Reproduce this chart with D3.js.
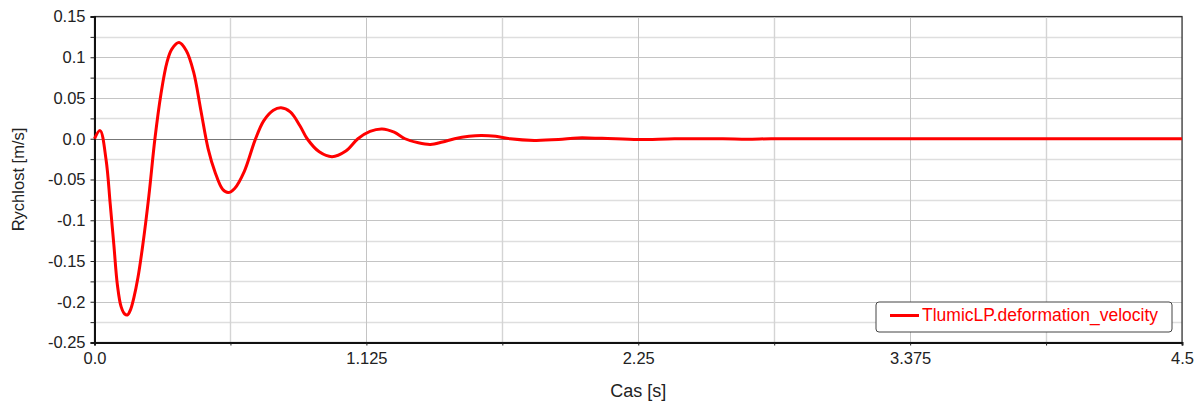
<!DOCTYPE html>
<html>
<head>
<meta charset="utf-8">
<script src="https://cdn.jsdelivr.net/npm/d3@7"></script>
<style>
  body { margin: 0; background: #fff; }
  svg { display: block; font-family: "Liberation Sans", Arial, sans-serif; }
</style>
</head>
<body>
<div id="chart"></div>
<script>
// time [s] and deformation velocity [m/s]
const time = [0, 0.023, 0.048, 0.065, 0.08, 0.095, 0.11, 0.125, 0.137, 0.15, 0.163, 0.18, 0.2, 0.225, 0.25,
  0.275, 0.3, 0.32, 0.35, 0.38, 0.41, 0.44, 0.47, 0.5, 0.53, 0.553, 0.58, 0.62, 0.664, 0.7, 0.74, 0.772,
  0.81, 0.85, 0.88, 0.93, 0.983, 1.04, 1.09, 1.14, 1.19, 1.24, 1.285, 1.34, 1.39, 1.44, 1.49, 1.55, 1.6,
  1.66, 1.72, 1.82, 1.92, 2.0, 2.1, 2.25, 2.4, 2.6, 2.7, 2.8, 3.0, 3.5, 4.0, 4.5];
const velocity = [0, 0.01, -0.026, -0.08, -0.13, -0.18, -0.206, -0.215, -0.216, -0.209, -0.195, -0.17, -0.13, -0.07, 0.0,
  0.055, 0.094, 0.11, 0.118, 0.108, 0.082, 0.035, -0.012, -0.042, -0.062, -0.066, -0.061, -0.04, -0.002, 0.022, 0.035, 0.038,
  0.033, 0.016, 0.0, -0.016, -0.022, -0.015, 0.0, 0.009, 0.012, 0.008, 0.0, -0.005, -0.007, -0.004, 0.0, 0.003, 0.004,
  0.003, 0.0, -0.002, -0.001, 0.001, 0.0005, -0.001, 0, 0, -0.0005, 0, 0, 0, 0, 0];

const xTicks = [0, 1.125, 2.25, 3.375, 4.5];
const xTickLabels = ["0.0", "1.125", "2.25", "3.375", "4.5"];
const yTicks = [0.15, 0.1, 0.05, 0, -0.05, -0.1, -0.15, -0.2, -0.25];
const yTickLabels = ["0.15", "0.1", "0.05", "0.0", "-0.05", "-0.1", "-0.15", "-0.2", "-0.25"];
const seriesName = "TlumicLP.deformation_velocity";

const width = 1198, height = 401;
const margin = {top: 16.5, right: 16, bottom: 58.5, left: 94.5};

const svg = d3.select("#chart").append("svg")
    .attr("width", width)
    .attr("height", height);

const x = d3.scaleLinear().domain([0, 4.5]).range([margin.left, width - margin.right]);
const y = d3.scaleLinear().domain([-0.25, 0.15]).range([height - margin.bottom, margin.top]);

// grid
const xMinor = d3.range(0, 4.5 + 1e-9, 0.5625);
const yMinor = d3.range(-0.25, 0.15 + 1e-9, 0.025);

svg.append("g").selectAll("line")
    .data(yMinor)
    .enter().append("line")
    .attr("x1", x(0)).attr("x2", x(4.5))
    .attr("y1", d => Math.round(y(d)) + 0.5).attr("y2", d => Math.round(y(d)) + 0.5)
    .attr("stroke", (d, i) => i % 2 === 0 ? "#c4c4c4" : "#dedede")
    .attr("stroke-width", (d, i) => i % 2 === 0 ? 1 : 1.6);

svg.append("g").selectAll("line")
    .data(xMinor)
    .enter().append("line")
    .attr("x1", d => Math.round(x(d)) + 0.5).attr("x2", d => Math.round(x(d)) + 0.5)
    .attr("y1", y(0.15)).attr("y2", y(-0.25))
    .attr("stroke", (d, i) => i % 2 === 0 ? "#c4c4c4" : "#d4d4d4")
    .attr("stroke-width", (d, i) => i % 2 === 0 ? 1 : 1.4);

// zero line
svg.append("line")
    .attr("x1", x(0)).attr("x2", x(4.5))
    .attr("y1", Math.round(y(0)) + 0.5).attr("y2", Math.round(y(0)) + 0.5)
    .attr("stroke", "#777").attr("stroke-width", 1);

// frame
svg.append("rect")
    .attr("x", x(0)).attr("y", y(0.15))
    .attr("width", x(4.5) - x(0)).attr("height", y(-0.25) - y(0.15))
    .attr("fill", "none").attr("stroke", "#333").attr("stroke-width", 1.2);

// axes
const xAxis = d3.axisBottom(x)
    .tickValues(xMinor)
    .tickSize(3)
    .tickFormat(d => {
        const i = xTicks.findIndex(t => Math.abs(t - d) < 1e-9);
        return i >= 0 ? xTickLabels[i] : "";
    });
const yAxis = d3.axisLeft(y)
    .tickValues(yMinor)
    .tickSize(4)
    .tickFormat(d => {
        const i = yTicks.findIndex(t => Math.abs(t - d) < 1e-9);
        return i >= 0 ? yTickLabels[i] : "";
    });

const gx = svg.append("g")
    .attr("transform", `translate(0,${y(-0.25)})`)
    .call(xAxis);
const gy = svg.append("g")
    .attr("transform", `translate(${x(0)},0)`)
    .call(yAxis);

[gx, gy].forEach(g => {
    g.select(".domain").attr("stroke", "#111").attr("stroke-width", 2);
    g.selectAll(".tick line").attr("stroke", "#222");
    g.selectAll(".tick text").attr("fill", "#222").style("font-size", "16.5px")
        .style("font-family", "'Liberation Sans', Arial, sans-serif");
});
gx.selectAll(".tick text").attr("dy", "0.71em").attr("y", 10);
gy.selectAll(".tick text").attr("x", -9);

// axis titles
svg.append("text")
    .attr("x", (x(0) + x(4.5)) / 2).attr("y", 397)
    .attr("text-anchor", "middle")
    .style("font-size", "18px").attr("fill", "#222")
    .text("Cas [s]");
svg.append("text")
    .attr("transform", `translate(24,${(y(0.15) + y(-0.25)) / 2}) rotate(-90)`)
    .attr("text-anchor", "middle")
    .style("font-size", "16.5px").attr("fill", "#222")
    .text("Rychlost [m/s]");

// series
const data = time.map((t, i) => ({t: t, v: velocity[i]}));
const line = d3.line()
    .x(d => x(d.t))
    .y(d => y(d.v))
    .curve(d3.curveCatmullRom.alpha(0.5));

svg.append("path")
    .datum(data)
    .attr("fill", "none")
    .attr("stroke", "#ff0000")
    .attr("stroke-width", 3)
    .attr("stroke-linejoin", "round")
    .attr("d", line);

// legend
const legend = svg.append("g").attr("transform", "translate(876,302)");
legend.append("rect")
    .attr("x", 0).attr("y", 0)
    .attr("width", 296).attr("height", 30)
    .attr("rx", 3)
    .attr("fill", "#fff").attr("stroke", "#444").attr("stroke-width", 1);
legend.append("line")
    .attr("x1", 14).attr("x2", 43)
    .attr("y1", 13.5).attr("y2", 13.5)
    .attr("stroke", "#ff0000").attr("stroke-width", 3);
legend.append("text")
    .attr("x", 46).attr("y", 19)
    .style("font-size", "17.5px").attr("fill", "#ff0000")
    .text(seriesName);
</script>
</body>
</html>
